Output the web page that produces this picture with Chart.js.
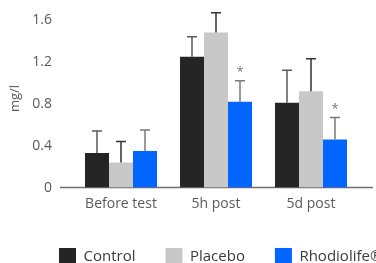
<!DOCTYPE html>
<html>
<head>
<meta charset="utf-8">
<script src="https://cdn.jsdelivr.net/npm/chart.js@4"></script>
<style>
  html, body { margin: 0; padding: 0; overflow: hidden; background: #fff; }
  #wrap { width: 376px; height: 263px; overflow: hidden; }
</style>
</head>
<body>
<div id="wrap"><canvas id="chart" width="420" height="276"></canvas></div>
<script>
const categories = ['Before test', '5h post', '5d post'];
const controlValues = [0.33, 1.25, 0.81];
const placeboValues = [0.24, 1.48, 0.92];
const rhodiolifeValues = [0.35, 0.82, 0.46];
const controlErrors = [0.21, 0.19, 0.31];
const placeboErrors = [0.20, 0.19, 0.31];
const rhodiolifeErrors = [0.20, 0.20, 0.21];
const significant = [false, true, true]; // asterisk over Rhodiolife bar
const yTicks = [0, 0.4, 0.8, 1.2, 1.6];

const FONT = "'Open Sans', sans-serif";

// error bars + asterisks, drawn from the data through the y scale
const errorBars = {
    id: 'errorBars',
    afterDatasetsDraw(chart) {
        const ctx = chart.ctx;
        const y = chart.scales.y;
        chart.data.datasets.forEach((ds, i) => {
            const meta = chart.getDatasetMeta(i);
            meta.data.forEach((bar, j) => {
                const top = y.getPixelForValue(ds.data[j] + ds.errors[j]);
                ctx.save();
                ctx.strokeStyle = ds.errorColor;
                ctx.lineWidth = 1.5;
                ctx.beginPath();
                ctx.moveTo(bar.x, bar.y);
                ctx.lineTo(bar.x, top);
                ctx.moveTo(bar.x - 5, top);
                ctx.lineTo(bar.x + 5, top);
                ctx.stroke();
                if (ds.stars && ds.stars[j]) {
                    ctx.fillStyle = '#777';
                    ctx.font = '13px ' + FONT;
                    ctx.textAlign = 'center';
                    ctx.textBaseline = 'middle';
                    ctx.fillText('*', bar.x, top - 8);
                }
                ctx.restore();
            });
        });
    }
};

// baseline runs a bit past the bar area on both sides
const baseline = {
    id: 'baseline',
    beforeDatasetsDraw(chart) {
        const ctx = chart.ctx;
        const area = chart.chartArea;
        const y0 = chart.scales.y.getPixelForValue(0);
        ctx.save();
        ctx.strokeStyle = '#6e6e6e';
        ctx.lineWidth = 1.5;
        ctx.beginPath();
        ctx.moveTo(area.left - 13.5, y0);
        ctx.lineTo(area.right + 14.5, y0);
        ctx.stroke();
        ctx.restore();
    }
};

// move the legend row to where the reference has it
const legendPlace = {
    id: 'legendPlace',
    afterLayout(chart) {
        const lg = chart.legend;
        const pad = lg.options.labels.padding;
        lg.left = 59 - pad;
        lg.right = lg.left + 1000;
        lg.top = 248 - pad;
    }
};

new Chart(document.getElementById('chart'), {
    type: 'bar',
    data: {
        labels: categories,
        datasets: [
            { label: 'Control', data: controlValues, errors: controlErrors, backgroundColor: '#252525', errorColor: '#5a5a5a' },
            { label: 'Placebo', data: placeboValues, errors: placeboErrors, backgroundColor: '#c8c8c8', errorColor: '#333333' },
            { label: 'Rhodiolife®', data: rhodiolifeValues, errors: rhodiolifeErrors, stars: significant, backgroundColor: '#0066ff', errorColor: '#7a7a7a' }
        ]
    },
    options: {
        responsive: false,
        animation: false,
        layout: { padding: { top: 9.5 } },
        datasets: { bar: { categoryPercentage: 0.758, barPercentage: 1.0, borderWidth: 0 } },
        plugins: {
            tooltip: { enabled: false },
            legend: {
                position: 'bottom',
                align: 'start',
                maxHeight: 40,
                labels: {
                    boxWidth: 17,
                    boxHeight: 17,
                    padding: 30,
                    color: '#3a3a3a',
                    font: { family: FONT, size: 15 }
                }
            }
        },
        scales: {
            x: {
                grid: { display: false, drawTicks: false },
                border: { display: false },
                ticks: { color: '#5a5a5a', padding: 8, font: { family: FONT, size: 14 } },
                afterFit(s) { s.height = 48.4; }
            },
            y: {
                min: 0,
                max: 1.7,
                grid: { display: false, drawTicks: true, tickLength: 20.5 },
                border: { display: false },
                afterBuildTicks(s) { s.ticks = yTicks.map(v => ({ value: v })); },
                ticks: {
                    color: '#5a5a5a',
                    padding: 1,
                    font: { family: FONT, size: 14 },
                    callback: v => v === 0 ? '0' : v.toFixed(1)
                },
                title: {
                    display: true,
                    text: 'mg/l',
                    color: '#5a5a5a',
                    padding: { top: 7 },
                    font: { family: FONT, size: 13 }
                },
                afterFit(s) { s.width = 73.5; }
            },
            right: {
                type: 'linear',
                position: 'right',
                grid: { display: false, drawTicks: false },
                border: { display: false },
                ticks: { display: false },
                afterFit(s) { s.width = 61.5; }
            }
        }
    },
    plugins: [baseline, errorBars, legendPlace]
});
</script>
</body>
</html>
